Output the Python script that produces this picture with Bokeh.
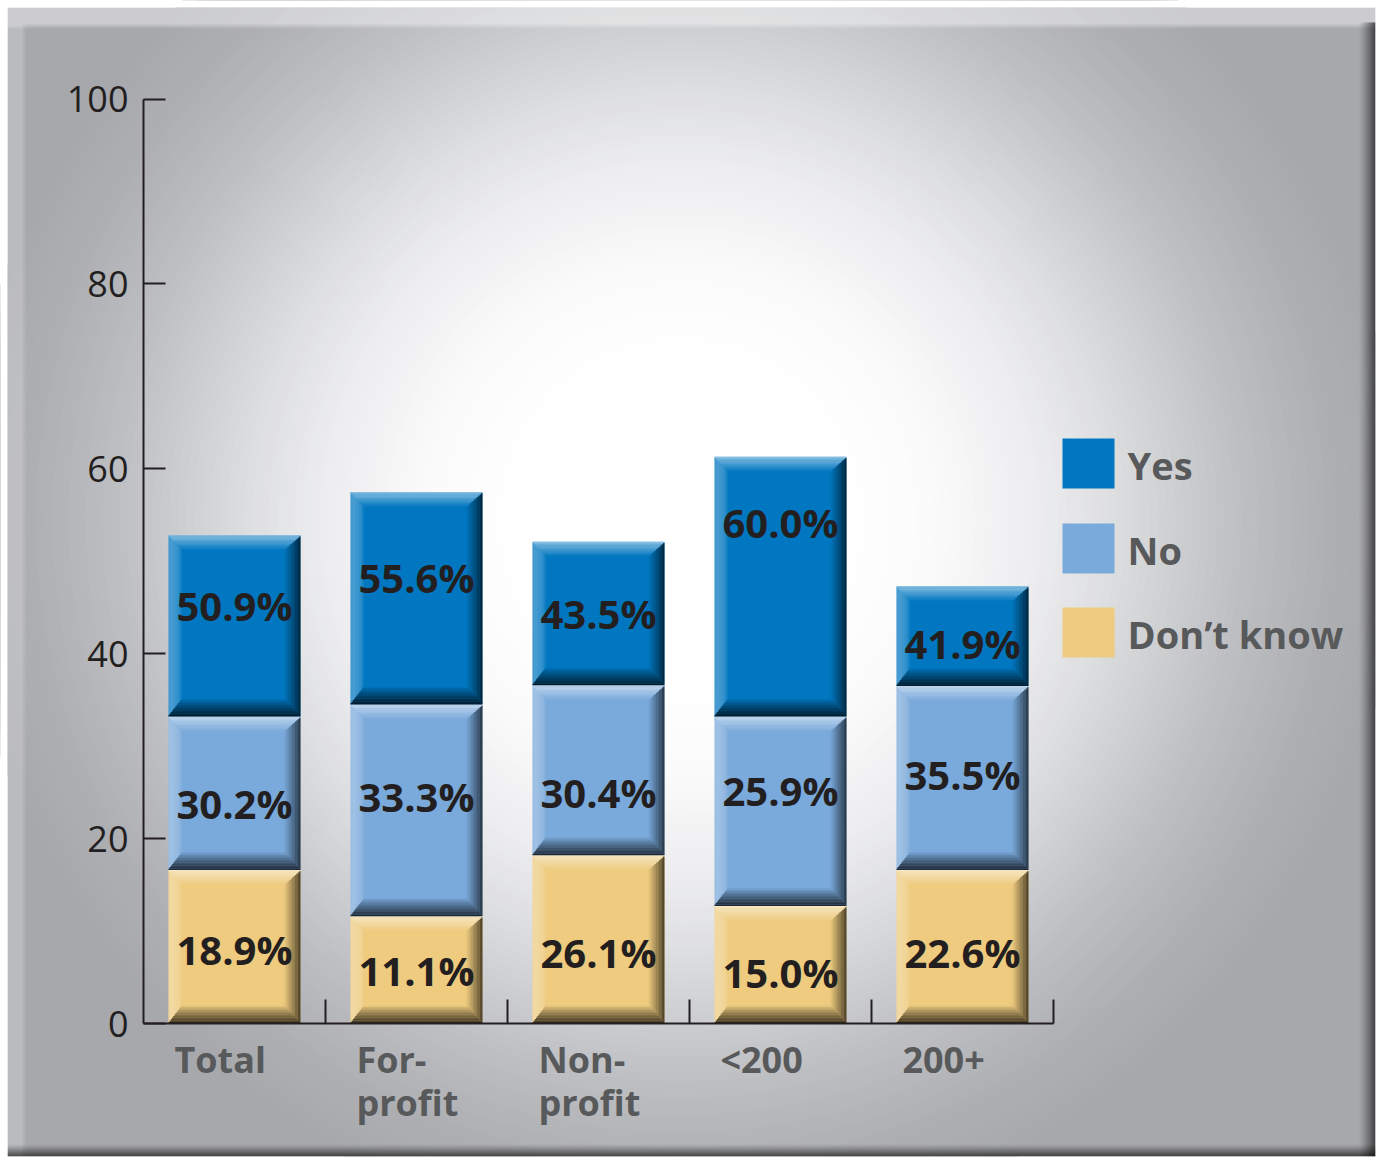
import numpy as np
from bokeh.plotting import figure
from bokeh.models import ColumnDataSource, Range1d, LinearAxis, FixedTicker, CustomJSTickFormatter
from bokeh.core.properties import value
from bokeh.embed import file_html
from bokeh.resources import INLINE

# ---------------- data ----------------
categories = ["Total", "For-\nprofit", "Non-\nprofit", "<200", "200+"]
series_names = ["Yes", "No", "Don\u2019t know"]
# segment heights as drawn on the 0-100 axis (bottom to top: Don't know, No, Yes)
dontknow_height = [16.6, 11.6, 18.2, 12.7, 16.6]
no_height = [16.6, 22.9, 18.4, 20.5, 19.9]
yes_height = [19.6, 23.0, 15.5, 28.1, 10.8]
# percentages printed inside the segments
dontknow_pct = [18.9, 11.1, 26.1, 15.0, 22.6]
no_pct = [30.2, 33.3, 30.4, 25.9, 35.5]
yes_pct = [50.9, 55.6, 43.5, 60.0, 41.9]
y_ticks = [0, 20, 40, 60, 80, 100]

# ---------------- style / layout ----------------
W, H = 1376, 1157
X0_PX, X_PX = 234.0, 182.0      # canvas x of category 0, px per category
Y0_PX, Y_PX = 1023.0, 9.245     # canvas y of value 0, px per unit
FL, FR, FT, FB = 7, 1375, 7, 1156   # outer frame edges (px)

def dx(px): return px / X_PX
def dy(px): return px / Y_PX
def gx(cx): return (cx - X0_PX) / X_PX
def gy(cy): return (Y0_PX - cy) / Y_PX

COLORS = {"Yes": "#0077c0", "No": "#7aa9db", "Don\u2019t know": "#eecb7f"}
TEXT_DARK = "#231f20"
TEXT_GRAY = "#58595b"
BAR_W = dx(132)

# label nudges (px, up positive) relative to segment middle
yes_nudge = [20, 21, 0, 64, -7]
no_nudge = [-10, 14, -22, 21, 4]
dk_nudge = [-3, -1, -13, -8, -6]

p = figure(width=W, height=H, output_backend="svg", toolbar_location=None,
           x_range=Range1d(gx(0), gx(W)), y_range=Range1d(gy(H), gy(0)),
           x_axis_type=None, y_axis_type=None, min_border=0)
p.outline_line_color = None
p.background_fill_color = "#ffffff"
p.border_fill_color = "#ffffff"
p.xgrid.visible = False
p.ygrid.visible = False

# ---------------- radial background ----------------
p.quad(left=[gx(FL)], right=[gx(FR)], bottom=[gy(FB)], top=[gy(FT)], fill_color="#a7a8ac", line_color=None)
stops = [(0.0, (255, 255, 255)), (0.22, (255, 255, 255)), (0.35, (251, 251, 251)),
         (0.5, (237, 237, 239)), (0.6, (222, 223, 225)), (0.7, (205, 206, 208)),
         (0.8, (188, 189, 192)), (0.9, (175, 176, 179)), (1.0, (167, 168, 172))]
def grad_col(f):
    for (f0, c0), (f1, c1) in zip(stops[:-1], stops[1:]):
        if f0 <= f <= f1:
            t = 0 if f1 == f0 else (f - f0) / (f1 - f0)
            c = [int(round(a + (b - a) * t)) for a, b in zip(c0, c1)]
            return "#%02x%02x%02x" % tuple(c)
    return "#%02x%02x%02x" % stops[-1][1]

R = 720.0
fr = np.linspace(1.0, 0.2, 70)
p.ellipse(x=[gx(680)] * len(fr), y=[gy(520)] * len(fr), width=list(2 * R * fr), height=list(2 * R * fr),
          width_units="screen", height_units="screen",
          fill_color=[grad_col(f) for f in fr], line_color=None)

# ---------------- outer frame bevel + white page margins ----------------
fl, fr_, fb, ft = [], [], [], []
fc, fa = [], []
def fq(l, r, b, t, c, a):
    fl.append(l); fr_.append(r); fb.append(b); ft.append(t); fc.append(c); fa.append(a)

# top light strip
fq(gx(FL), gx(FR), gy(FT + 17), gy(FT), "#ffffff", 0.42)
for k in range(4):
    fq(gx(FL), gx(FR), gy(FT + 21 - k), gy(FT + 20 - k), "#ffffff", 0.08 * (k + 1))
# left light strip
fq(gx(FL), gx(FL + 15), gy(FB), gy(FT + 17), "#ffffff", 0.22)
for k in range(4):
    fq(gx(FL + 15 + k), gx(FL + 16 + k), gy(FB), gy(FT + 17), "#ffffff", 0.16 - 0.04 * k)
# right dark strip
N = 17
for k in range(N):
    fq(gx(FR - 17 + k), gx(FR - 16 + k), gy(FB), gy(FT + 15), "#000000", 0.72 * ((k + 1) / N) ** 1.5)
# bottom dark strip
N = 12
for k in range(N):
    fq(gx(FL), gx(FR), gy(FB - 12 + k + 1), gy(FB - 12 + k), "#000000", 0.72 * ((k + 1) / N) ** 1.3)
# white page margins outside the frame (extended past the canvas edges)
fq(gx(-20), gx(FL), gy(H + 20), gy(-20), "#ffffff", 1.0)
fq(gx(FR), gx(W + 20), gy(H + 20), gy(-20), "#ffffff", 1.0)
fq(gx(-20), gx(W + 20), gy(FT), gy(-20), "#ffffff", 1.0)
fq(gx(-20), gx(W + 20), gy(H + 20), gy(FB), "#ffffff", 1.0)
p.quad(left=fl, right=fr_, bottom=fb, top=ft, fill_color=fc, fill_alpha=fa, line_color=None)

# ---------------- bars ----------------
xs = np.arange(len(categories), dtype=float)
stack = [("Don\u2019t know", dontknow_height, dontknow_pct, dk_nudge),
         ("No", no_height, no_pct, no_nudge),
         ("Yes", yes_height, yes_pct, yes_nudge)]

ol, orr, ob, ot, oc, oa = [], [], [], [], [], []
def oq(l, r, b, t, c, a):
    ol.append(l); orr.append(r); ob.append(b); ot.append(t); oc.append(c); oa.append(a)

BT, BB, BL, BR = dy(15), dy(18), dx(14), dx(17)
NB = 12
def bevel(l, r, b, t):
    for k in range(NB):
        f0, f1, fm = k / NB, (k + 1) / NB, (k + 0.5) / NB
        oq(l + f0 * BL, r - f0 * BR, t - f1 * BT, t - f0 * BT, "#ffffff", 0.55 * (1 - fm))
        oq(l + f0 * BL, r - f0 * BR, b + f0 * BB, b + f1 * BB, "#000000", 0.78 * (1 - fm) ** 0.9)
        oq(l + f0 * BL, l + f1 * BL, b + f1 * BB, t - f1 * BT, "#ffffff", 0.28 * (1 - fm ** 3))
        oq(r - f1 * BR, r - f0 * BR, b + f1 * BB, t - f1 * BT, "#000000", 0.72 * (1 - fm) ** 1.2)

base = np.zeros(len(categories))
lab_x, lab_y, lab_t = [], [], []
for name, heights, pcts, nudge in stack:
    h = np.array(heights)
    src = ColumnDataSource(dict(left=xs - BAR_W / 2, right=xs + BAR_W / 2, bottom=base, top=base + h))
    p.quad(left="left", right="right", bottom="bottom", top="top", source=src,
           fill_color=COLORS[name], line_color=None)
    for i in range(len(categories)):
        bevel(xs[i] - BAR_W / 2, xs[i] + BAR_W / 2, base[i], base[i] + h[i])
        lab_x.append(xs[i])
        lab_y.append(base[i] + h[i] / 2 + dy(nudge[i]))
        lab_t.append("%.1f%%" % pcts[i])
    base = base + h

p.quad(left=ol, right=orr, bottom=ob, top=ot, fill_color=oc, fill_alpha=oa, line_color=None)

p.text(x=lab_x, y=lab_y, text=lab_t, text_font=value("Open Sans"), text_font_style="bold",
       text_font_size="40px", text_color=TEXT_DARK, text_align="center", text_baseline="middle")

# ---------------- axes ----------------
yaxis = LinearAxis(fixed_location=-0.5, bounds=(0, 100), ticker=FixedTicker(ticks=y_ticks))
yaxis.axis_line_color = TEXT_DARK
yaxis.axis_line_width = 2
yaxis.major_tick_line_color = TEXT_DARK
yaxis.major_tick_line_width = 2
yaxis.major_tick_in = 22
yaxis.major_tick_out = 0
yaxis.minor_tick_in = 0
yaxis.minor_tick_out = 0
yaxis.major_label_text_font = "Open Sans"
yaxis.major_label_text_font_size = "36px"
yaxis.major_label_text_color = TEXT_DARK
yaxis.major_label_standoff = 15
p.add_layout(yaxis, "left")

xaxis = LinearAxis(fixed_location=0, bounds=(-0.5, len(categories) - 0.5),
                   ticker=FixedTicker(ticks=list(xs + 0.5)))
xaxis.formatter = CustomJSTickFormatter(code="return ''")
xaxis.axis_line_color = TEXT_DARK
xaxis.axis_line_width = 2
xaxis.major_tick_line_color = TEXT_DARK
xaxis.major_tick_line_width = 2
xaxis.major_tick_in = 24
xaxis.major_tick_out = 0
xaxis.minor_tick_in = 0
xaxis.minor_tick_out = 0
p.add_layout(xaxis, "below")

# category labels (left aligned, possibly two lines)
cx, cy, ct = [], [], []
for i, c in enumerate(categories):
    for j, line in enumerate(c.split("\n")):
        cx.append(xs[i] - 0.33)
        cy.append(gy(1059 + 43 * j))
        ct.append(line)
p.text(x=cx, y=cy, text=ct, text_font=value("Open Sans"), text_font_style="bold",
       text_font_size="36px", text_color=TEXT_GRAY, text_align="left", text_baseline="middle")

# ---------------- legend ----------------
leg_top = [438, 523, 607]
lgl, lgr, lgb, lgt, lgc = [], [], [], [], []
tx, ty, tt = [], [], []
for k, name in enumerate(series_names):
    lgl.append(gx(1062)); lgr.append(gx(1114))
    lgt.append(gy(leg_top[k])); lgb.append(gy(leg_top[k] + 50))
    lgc.append(COLORS[name])
    tx.append(gx(1127)); ty.append(gy(leg_top[k] + 26)); tt.append(name)
p.quad(left=lgl, right=lgr, bottom=lgb, top=lgt, fill_color=lgc, line_color=None)
p.text(x=tx, y=ty, text=tt, text_font=value("Open Sans"), text_font_style="bold",
       text_font_size="38px", text_color=TEXT_GRAY, text_align="left", text_baseline="middle")

open("out.html", "w").write(file_html(p, INLINE))
